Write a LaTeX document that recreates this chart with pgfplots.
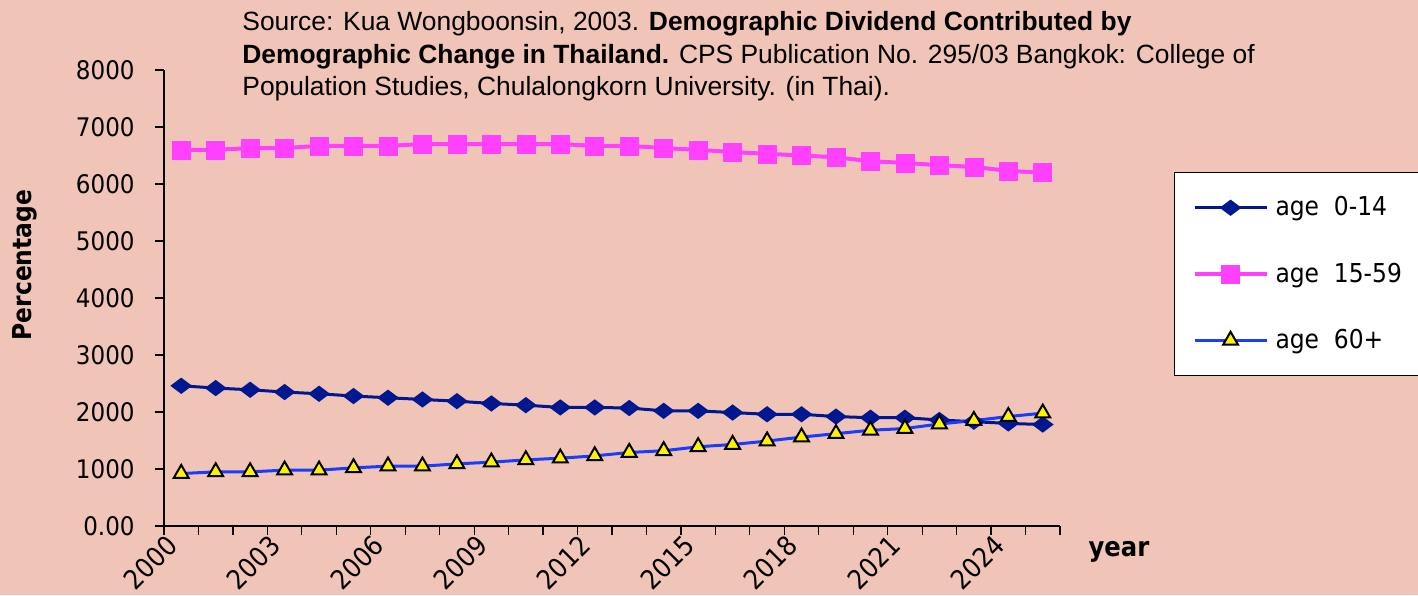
\documentclass[border=0pt]{standalone}
\usepackage{fontspec}
\setmainfont{DejaVu Sans Condensed}
\newfontfamily\arialfont{Liberation Sans}
\usepackage{pgfplots}
\pgfplotsset{compat=1.18}

\definecolor{bgpink}{RGB}{240,197,184}
\definecolor{navyline}{RGB}{0,24,143}
\definecolor{pinkline}{RGB}{255,64,255}
\definecolor{blueline}{RGB}{25,60,255}

\pgfplotstableread{
idx young working old
0  2460 6600 920
1  2420 6600 950
2  2390 6630 950
3  2350 6630 980
4  2320 6670 980
5  2280 6670 1020
6  2250 6670 1050
7  2220 6700 1050
8  2190 6700 1090
9  2150 6700 1120
10 2120 6700 1160
11 2080 6700 1190
12 2080 6670 1230
13 2070 6670 1290
14 2020 6630 1320
15 2020 6600 1390
16 1990 6560 1430
17 1960 6530 1490
18 1960 6500 1560
19 1920 6470 1620
20 1900 6400 1680
21 1900 6370 1710
22 1860 6330 1790
23 1830 6300 1850
24 1800 6230 1920
25 1780 6200 1980
}\popdata

\begin{document}
\begin{tikzpicture}
\fill[bgpink] (-82pt,-34.5pt) rectangle (627pt,263pt);
\begin{axis}[
at={(0pt,0pt)}, anchor=south west,
scale only axis,
width=448pt, height=228pt,
xmin=-0.5, xmax=25.5,
ymin=0, ymax=8000,
axis x line*=bottom, axis y line*=left,
axis line style={-, black, line width=0.6pt},
tick align=outside,
major tick length=4.5pt, minor tick length=4.5pt,
tick style={black, line width=0.6pt},
xtick={-0.5,2.5,...,23.5},
minor xtick={-0.5,0.5,...,25.5},
xticklabels={2000,2003,2006,2009,2012,2015,2018,2021,2024},
ytick={0,1000,...,8000},
yticklabels={0.00,1000,2000,3000,4000,5000,6000,7000,8000},
xticklabel style={font=\fontsize{13.5}{15}\selectfont, rotate=45, anchor=east, inner sep=1pt, yshift=-5pt, xshift=2pt},
yticklabel style={font=\fontsize{12.8}{14}\selectfont, anchor=east, inner sep=0pt, xshift=-10pt},
legend style={at={(axis description cs:1.1272,0.7763)}, anchor=north west,
  draw=black, fill=white, line width=0.6pt,
  font=\fontsize{13}{15}\selectfont,
  row sep=18pt, inner xsep=9pt, inner ysep=10pt,
  nodes={inner xsep=3.5pt}},
legend cell align=left,
legend image code/.code={\draw[mark repeat=2,mark phase=2,#1] plot coordinates {(0pt,0pt)(18pt,0pt)(36pt,0pt)};},
clip=false,
]
\addplot[navyline, line width=1.5pt, mark=diamond*, mark size=4.2pt, mark options={rotate=90, solid, fill=navyline, draw=navyline}]
  table[x=idx, y=young] {\popdata};
\addlegendentry{age\ \ 0-14\hspace{30pt}}
\addplot[pinkline, line width=2pt, mark=square*, mark size=4.5pt, mark options={solid, fill=pinkline, draw=pinkline, line width=0.3pt}]
  table[x=idx, y=working] {\popdata};
\addlegendentry{age\ \ 15-59\hspace{30pt}}
\addplot[blueline, line width=1.5pt, mark=triangle*, mark size=4.3pt, mark options={solid, fill=yellow, draw=black, line width=1pt}]
  table[x=idx, y=old] {\popdata};
\addlegendentry{age\ \ 60+\hspace{30pt}}
\end{axis}

\node[anchor=base west, font=\arialfont\fontsize{13.2}{15}\selectfont, inner sep=0pt] at (39pt,247.5pt)
  {Source: Kua Wongboonsin, 2003. \textbf{Demographic Dividend Contributed by}};
\node[anchor=base west, font=\arialfont\fontsize{13.2}{15}\selectfont, inner sep=0pt] at (39pt,231pt)
  {\textbf{Demographic Change in Thailand.} CPS Publication No. 295/03 Bangkok: College of};
\node[anchor=base west, font=\arialfont\fontsize{13.2}{15}\selectfont, inner sep=0pt] at (39pt,215pt)
  {Population Studies, Chulalongkorn University. (in Thai).};

\node[rotate=90, font=\bfseries\fontsize{13}{15}\selectfont] at (-69.5pt,130.5pt) {Percentage};
\node[font=\bfseries\fontsize{13.5}{15}\selectfont] at (477.5pt,-13pt) {year};

\pgfresetboundingbox
\useasboundingbox (-82pt,-34.5pt) rectangle (627pt,263pt);
\end{tikzpicture}
\end{document}
